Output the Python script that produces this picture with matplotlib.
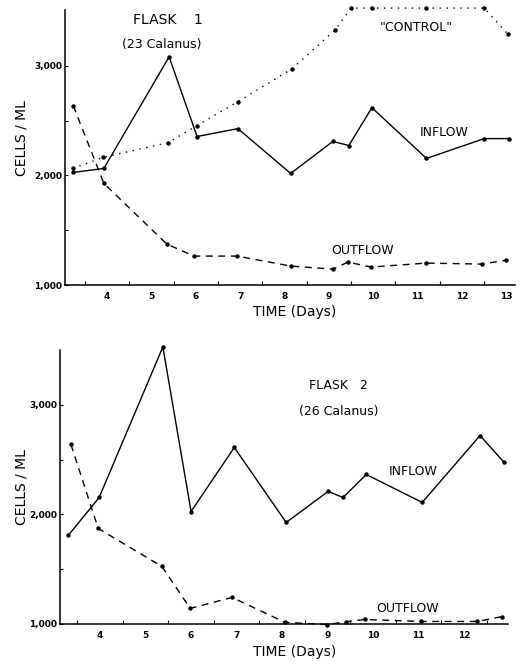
import numpy as np
import matplotlib
matplotlib.use("Agg")
from matplotlib import pyplot as plt

# Flask 1 (23 Calanus)
f1_in_day = [3.23, 3.93, 5.40, 6.03, 6.95, 8.14, 9.09, 9.45, 9.97, 11.2, 12.5, 13.05]
f1_in_val = [2027, 2064, 3082, 2355, 2427, 2018, 2310, 2273, 2618, 2155, 2336, 2336]
f1_ctl_day = [3.23, 3.91, 5.38, 6.03, 6.95, 8.17, 9.14, 9.5, 9.97, 11.2, 12.5, 13.03]
f1_ctl_val = [2064, 2164, 2300, 2455, 2673, 2973, 3327, 3527, 3527, 3527, 3527, 3291]
f1_out_day = [3.24, 3.93, 5.35, 5.96, 6.93, 8.14, 9.09, 9.43, 9.95, 11.2, 12.45, 13.0]
f1_out_val = [2636, 1927, 1373, 1264, 1264, 1173, 1145, 1209, 1164, 1200, 1191, 1227]

# Flask 2 (26 Calanus)
f2_in_day = [3.30, 3.98, 5.38, 6.0, 6.95, 8.09, 9.01, 9.34, 9.85, 11.08, 12.35, 12.88]
f2_in_val = [1808, 2155, 3530, 2027, 2612, 1927, 2210, 2155, 2365, 2110, 2721, 2475]
f2_out_day = [3.36, 3.96, 5.36, 5.98, 6.9, 8.07, 8.99, 9.4, 9.82, 11.05, 12.29, 12.84]
f2_out_val = [2639, 1872, 1525, 1142, 1242, 1014, 995, 1020, 1041, 1023, 1023, 1068]

day_ticks = [4, 5, 6, 7, 8, 9, 10, 11, 12, 13]
cell_ticks = [1000, 2000, 3000]
cell_labels = ["1,000", "2,000", "3,000"]

plt.rcParams['font.family'] = ['DejaVu Sans']

fig = plt.figure(figsize=(5.2, 6.65), dpi=100)
ax1 = fig.add_axes([0.125, 0.5714, 0.865, 0.4135])
ax2 = fig.add_axes([0.1154, 0.0617, 0.862, 0.412])

mk = dict(marker='o', markersize=2.2, color='black', linewidth=1.0, clip_on=False)


def style_axes(ax, xlim, ylim, days):
    ax.set_xlim(*xlim)
    ax.set_ylim(*ylim)
    for s in ['top', 'right']:
        ax.spines[s].set_visible(False)
    for s in ['left', 'bottom']:
        ax.spines[s].set_linewidth(1.1)
    ax.set_xticks(days)
    ax.set_xticklabels([str(d) for d in days], fontsize=6.5, fontweight='bold')
    ax.set_xticks(np.arange(3.5, xlim[1], 1.0), minor=True)
    ax.set_yticks(cell_ticks)
    ax.set_yticklabels(cell_labels, fontsize=6.5, fontweight='bold')
    ax.set_yticks([1500, 2500], minor=True)
    ax.tick_params(axis='x', which='major', length=0, pad=5)
    ax.tick_params(axis='x', which='minor', direction='in', length=3, width=0.8)
    ax.tick_params(axis='y', which='major', direction='in', length=2.5, width=0.8, pad=2)
    ax.tick_params(axis='y', which='minor', direction='in', length=2.5, width=0.8)


# top panel
ax1.plot(f1_in_day, f1_in_val, linestyle='-', **mk)
ax1.plot(f1_ctl_day, f1_ctl_val, linestyle=(0, (1, 4)), **mk)
ax1.plot(f1_out_day, f1_out_val, linestyle=(0, (5, 4)), **mk)
style_axes(ax1, (3.054, 13.19), (1000, 3509), day_ticks)

ax1.text(0.229, 0.964, "FLASK    1", transform=ax1.transAxes, ha='center', va='center', fontsize=10)
ax1.text(0.216, 0.873, "(23 Calanus)", transform=ax1.transAxes, ha='center', va='center', fontsize=9)
ax1.text(0.782, 0.938, "\"CONTROL\"", transform=ax1.transAxes, ha='center', va='center', fontsize=9)
ax1.text(0.842, 0.556, "INFLOW", transform=ax1.transAxes, ha='center', va='center', fontsize=9)
ax1.text(0.662, 0.127, "OUTFLOW", transform=ax1.transAxes, ha='center', va='center', fontsize=9)

# bottom panel
ax2.plot(f2_in_day, f2_in_val, linestyle='-', **mk)
ax2.plot(f2_out_day, f2_out_val, linestyle=(0, (5, 4)), **mk)
style_axes(ax2, (3.12, 12.97), (1000, 3502), day_ticks[:-1])

ax2.text(0.622, 0.872, "FLASK   2", transform=ax2.transAxes, ha='center', va='center', fontsize=9)
ax2.text(0.621, 0.777, "(26 Calanus)", transform=ax2.transAxes, ha='center', va='center', fontsize=9)
ax2.text(0.787, 0.558, "INFLOW", transform=ax2.transAxes, ha='center', va='center', fontsize=9)
ax2.text(0.776, 0.058, "OUTFLOW", transform=ax2.transAxes, ha='center', va='center', fontsize=9)

# axis titles
fig.text(295 / 520, 1 - 312 / 665, "TIME (Days)", ha='center', va='center', fontsize=10)
fig.text(295 / 520, 1 - 652 / 665, "TIME (Days)", ha='center', va='center', fontsize=10)
fig.text(22 / 520, 1 - 138 / 665, "CELLS / ML", ha='center', va='center', fontsize=10, rotation=90)
fig.text(22 / 520, 1 - 487 / 665, "CELLS / ML", ha='center', va='center', fontsize=10, rotation=90)

fig.savefig("out.png", dpi=100)
